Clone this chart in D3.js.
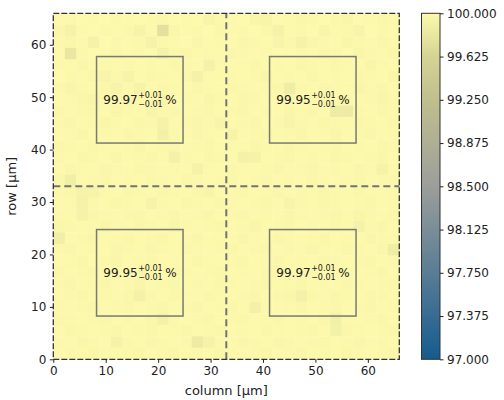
<!DOCTYPE html>
<html>
<head>
<meta charset="utf-8">
<script src="https://cdn.jsdelivr.net/npm/d3@7"></script>
<style>
  body { margin: 0; background: #fff; }
  text { font-family: "DejaVu Sans", sans-serif; fill: #222; }
</style>
</head>
<body>
<svg id="chart" width="504" height="400"></svg>
<script>
// efficiency map, 30 x 30 cells of 2.2 µm, first row is the top of the image
var extent = 66;
var heat = [
  [99.99,99.98,100,99.99,100,99.98,99.99,100,99.99,99.98,100,99.99,100,99.95,99.98,99.99,100,99.96,99.95,100,99.99,99.97,99.98,100,99.98,99.96,100,99.99,99.97,99.98],
  [99.97,99.93,99.99,100,99.98,99.99,99.98,99.94,99.99,99.76,99.97,99.99,99.98,100,99.97,99.99,99.98,100,99.97,99.93,99.99,99.98,100,99.96,99.99,99.98,99.95,100,99.98,99.99],
  [99.98,99.97,99.99,99.93,100,99.98,99.99,99.98,99.93,99.98,99.99,100,99.97,99.99,99.98,99.99,99.97,99.98,99.99,99.95,99.98,99.93,99.97,99.98,99.99,99.96,99.98,99.99,99.97,99.98],
  [99.99,99.82,99.98,100,99.99,99.97,99.99,99.98,99.99,99.92,99.98,99.97,99.99,99.98,99.99,99.97,99.98,99.99,99.98,100,99.99,99.98,99.99,99.97,99.98,100,99.96,99.98,99.99,99.97],
  [99.98,99.99,99.97,99.99,99.98,99.99,99.98,99.99,99.98,99.99,99.97,99.98,99.99,99.92,99.98,99.99,99.98,99.97,99.99,99.98,99.99,99.97,99.98,99.99,99.97,99.98,99.99,99.96,99.98,99.99],
  [100,99.98,99.99,99.97,99.95,99.98,99.94,99.99,99.97,99.98,99.99,99.97,99.92,99.98,99.99,99.98,99.99,99.98,99.96,99.99,99.98,99.99,99.97,99.99,99.98,99.99,99.97,99.98,99.99,99.96],
  [99.98,99.96,99.98,99.99,99.97,99.94,99.98,99.93,99.99,99.97,99.98,99.99,99.97,99.98,99.99,99.97,99.98,99.99,99.98,99.97,99.88,99.98,99.99,99.97,99.98,99.99,99.96,99.98,99.97,99.99],
  [99.99,99.98,99.97,99.95,99.98,99.99,99.96,99.98,99.97,99.94,99.99,99.98,99.99,99.96,99.98,99.99,99.97,99.98,99.99,99.98,99.97,99.99,99.98,99.96,99.98,99.97,99.99,99.98,99.96,99.98],
  [99.97,99.99,99.98,99.97,99.99,99.96,99.98,99.99,99.95,99.98,99.97,99.99,99.98,99.97,99.99,99.98,99.97,99.99,99.98,99.99,99.96,99.98,99.97,99.99,99.86,99.86,99.98,99.99,99.97,99.98],
  [99.98,99.97,99.99,99.98,99.96,99.98,99.99,99.97,99.98,99.93,99.99,99.98,99.97,99.98,99.95,99.99,99.98,99.97,99.99,99.98,99.95,99.98,99.99,99.97,99.98,99.99,99.97,99.98,99.99,99.97],
  [99.99,99.98,99.97,99.99,99.98,99.99,99.97,99.98,99.99,99.91,99.98,99.99,99.97,99.98,99.99,99.94,99.99,99.98,99.97,99.99,99.98,99.97,99.99,99.98,99.96,99.99,99.98,99.97,99.99,99.98],
  [99.97,99.98,99.99,99.97,99.98,99.99,99.98,99.96,99.99,99.98,99.97,99.99,99.98,99.97,99.99,99.98,99.99,99.97,99.98,99.99,99.97,99.98,99.99,99.98,99.97,99.99,99.98,99.99,99.97,99.98],
  [99.98,99.99,99.97,99.98,99.99,99.97,99.99,99.98,99.97,99.99,99.92,99.98,99.99,99.97,99.98,99.99,99.92,99.93,99.99,99.98,99.97,99.99,99.98,99.99,99.97,99.98,99.99,99.98,99.97,99.99],
  [99.99,99.97,99.98,99.99,99.97,99.98,99.99,99.97,99.98,99.99,99.98,99.99,99.93,99.98,99.99,99.97,99.98,99.99,99.98,99.97,99.99,99.98,99.97,99.99,99.98,99.99,99.97,99.98,99.93,99.98],
  [99.97,99.89,99.99,99.98,99.97,99.99,99.98,99.99,99.97,99.98,99.99,99.97,99.98,99.99,99.98,99.97,99.99,99.98,99.97,99.99,99.98,99.99,99.97,99.98,99.99,99.98,99.97,99.99,99.98,99.97],
  [99.98,99.97,99.93,99.94,99.98,99.99,99.97,99.98,99.99,99.97,99.98,99.99,99.97,99.95,99.99,99.98,99.97,99.99,99.98,99.97,99.99,99.98,99.99,99.97,99.98,99.99,99.97,99.98,99.99,99.98],
  [99.99,99.98,99.92,99.98,99.99,99.97,99.98,99.99,99.94,99.98,99.99,99.97,99.98,99.99,99.97,99.98,99.99,99.98,99.97,99.99,99.95,99.98,99.99,99.97,99.98,99.99,99.98,99.97,99.99,99.98],
  [99.98,99.99,99.93,99.97,99.98,99.99,99.98,99.97,99.99,99.98,99.97,99.99,99.98,99.97,99.99,99.98,99.97,99.99,99.98,99.99,99.97,99.98,99.99,99.98,99.97,99.99,99.96,99.98,99.99,99.97],
  [99.97,99.98,99.99,99.98,99.96,99.98,99.99,99.97,99.98,99.99,99.96,99.98,99.99,99.98,99.97,99.99,99.98,99.96,99.99,99.98,99.97,99.99,99.98,99.99,99.97,99.98,99.92,99.98,99.97,99.99],
  [99.89,99.99,99.98,99.97,99.99,99.98,99.97,99.99,99.98,99.97,99.99,99.98,99.97,99.99,99.98,99.99,99.97,99.98,99.99,99.97,99.98,99.99,99.98,99.97,99.99,99.98,99.99,99.97,99.98,99.98],
  [99.98,99.97,99.99,99.98,99.99,99.97,99.98,99.99,99.97,99.98,99.99,99.97,99.98,99.99,99.98,99.97,99.99,99.98,99.97,99.99,99.98,99.99,99.97,99.98,99.99,99.97,99.98,99.99,99.97,99.88],
  [99.99,99.98,99.97,99.99,99.98,99.96,99.99,99.98,99.97,99.99,99.98,99.99,99.97,99.98,99.99,99.98,99.97,99.99,99.98,99.97,99.99,99.98,99.99,99.97,99.98,99.99,99.98,99.97,99.99,99.98],
  [99.97,99.99,99.98,99.97,99.99,99.98,99.99,99.97,99.98,99.99,99.97,99.98,99.99,99.98,99.97,99.99,99.98,99.99,99.97,99.98,99.99,99.97,99.98,99.99,99.98,99.97,99.99,99.98,99.97,99.99],
  [99.98,99.97,99.99,99.98,99.97,99.99,99.98,99.96,99.99,99.98,99.97,99.99,99.98,99.99,99.97,99.98,99.99,99.98,99.97,99.99,99.98,99.97,99.99,99.98,99.99,99.97,99.98,99.99,99.98,99.97],
  [99.99,99.98,99.97,99.99,99.98,99.99,99.97,99.92,99.98,99.99,99.97,99.98,99.99,99.97,99.98,99.99,99.98,99.97,99.99,99.98,99.97,99.92,99.98,99.99,99.97,99.98,99.99,99.97,99.98,99.99],
  [99.98,99.99,99.98,99.97,99.99,99.98,99.97,99.99,99.98,99.97,99.99,99.98,99.97,99.99,99.98,99.97,99.99,99.91,99.98,99.99,99.98,99.97,99.99,99.98,99.97,99.99,99.98,99.97,99.99,99.98],
  [99.97,99.98,99.99,99.98,99.97,99.99,99.98,99.99,99.97,99.92,99.98,99.99,99.98,99.97,99.99,99.98,99.97,99.99,99.98,99.97,99.99,99.98,99.99,99.97,99.91,99.98,99.99,99.98,99.97,99.99],
  [99.99,99.97,99.98,99.99,99.98,99.97,99.99,99.98,99.97,99.99,99.98,99.97,99.99,99.98,99.97,99.99,99.98,99.99,99.97,99.98,99.99,99.98,99.97,99.99,99.92,99.97,99.98,99.99,99.98,99.97],
  [99.98,99.99,99.97,99.98,99.99,99.93,99.98,99.99,99.97,99.98,99.99,99.98,99.86,99.93,99.98,99.99,99.97,99.98,99.99,99.97,99.98,99.99,99.98,99.97,99.99,99.98,99.97,99.99,99.98,99.99],
  [99.99,99.98,99.99,99.97,99.98,99.99,99.98,99.97,99.99,99.98,99.97,99.99,99.98,99.99,99.97,99.98,99.99,99.98,99.97,99.99,99.98,99.97,99.99,99.98,99.99,99.97,99.98,99.99,99.98,99.97]
];

// four sub-regions: [x0, x1, y0, y1] in µm, value and errors in %
var regions = [[8.25, 24.75, 41.25, 57.75], [41.25, 57.75, 41.25, 57.75],
               [8.25, 24.75, 8.25, 24.75], [41.25, 57.75, 8.25, 24.75]];
var regionValues = ["99.97", "99.95", "99.95", "99.97"];
var regionPlus = ["+0.01", "+0.01", "+0.01", "+0.01"];
var regionMinus = ["\u22120.01", "\u22120.01", "\u22120.01", "\u22120.01"];

var axisTicks = [0, 10, 20, 30, 40, 50, 60];
var splitAt = 33;
var cbarTicks = [97.000, 97.375, 97.750, 98.125, 98.500, 98.875, 99.250, 99.625, 100.000];
var cmapStops = [97, 98.5, 99.25, 99.625, 100];
var cmapColors = ["#155b8f", "#9c9e9a", "#c0bf8e", "#d5d394", "#fdfaad"];

var svg = d3.select("#chart");
var plotLeft = 53.3, plotTop = 13.3, plotSize = 346;

var x = d3.scaleLinear().domain([0, extent]).range([plotLeft, plotLeft + plotSize]);
var y = d3.scaleLinear().domain([0, extent]).range([plotTop + plotSize, plotTop]);
var color = d3.scaleLinear().domain(cmapStops).range(cmapColors).clamp(true);

var n = heat.length, cell = extent / n;

// cells
var g = svg.append("g");
heat.forEach(function(row, j) {
  row.forEach(function(v, i) {
    g.append("rect")
      .attr("x", x(i * cell))
      .attr("y", y(extent - j * cell))
      .attr("width", x(cell) - x(0) + 0.3)
      .attr("height", y(0) - y(cell) + 0.3)
      .attr("fill", color(v));
  });
});

// split lines
svg.append("line").attr("x1", x(splitAt)).attr("x2", x(splitAt)).attr("y1", y(0)).attr("y2", y(extent))
  .attr("stroke", "#737373").attr("stroke-width", 2).attr("stroke-dasharray", "7,4");
svg.append("line").attr("x1", x(0)).attr("x2", x(extent)).attr("y1", y(splitAt)).attr("y2", y(splitAt))
  .attr("stroke", "#737373").attr("stroke-width", 2).attr("stroke-dasharray", "7,4");

// region boxes and labels
regions.forEach(function(r, k) {
  svg.append("rect")
    .attr("x", x(r[0])).attr("y", y(r[3]))
    .attr("width", x(r[1]) - x(r[0])).attr("height", y(r[2]) - y(r[3]))
    .attr("fill", "none").attr("stroke", "#7a7a72").attr("stroke-width", 1.5);

  var cx = x((r[0] + r[1]) / 2), cy = y((r[2] + r[3]) / 2);
  var x0 = cx - 36.5;
  var main = svg.append("text").attr("x", x0).attr("y", cy + 4.5).style("font-size", "12px").text(regionValues[k]);
  var w = main.node().getComputedTextLength();
  var sx = x0 + w + 0.5;
  svg.append("text").attr("x", sx).attr("y", cy - 1.5).style("font-size", "8px").text(regionPlus[k]);
  svg.append("text").attr("x", sx).attr("y", cy + 7.5).style("font-size", "8px").text(regionMinus[k]);
  svg.append("text").attr("x", sx + 27).attr("y", cy + 4.5).style("font-size", "12px").text("%");
});

// frame
svg.append("rect").attr("x", plotLeft).attr("y", plotTop).attr("width", plotSize).attr("height", plotSize)
  .attr("fill", "none").attr("stroke", "#333").attr("stroke-width", 1.3).attr("stroke-dasharray", "6,2");

// axes
function styleAxis(s) {
  s.select(".domain").remove();
  s.selectAll("text").style("font-size", "12px").attr("fill", "#222");
  s.selectAll("line").attr("stroke", "#222");
}
svg.append("g").attr("transform", "translate(0," + (plotTop + plotSize) + ")")
  .call(d3.axisBottom(x).tickValues(axisTicks).tickSize(3.5).tickPadding(3.5))
  .call(styleAxis);
svg.append("g").attr("transform", "translate(" + plotLeft + ",0)")
  .call(d3.axisLeft(y).tickValues(axisTicks).tickSize(3.5).tickPadding(3.5))
  .call(styleAxis);

svg.append("text").attr("x", plotLeft + plotSize / 2).attr("y", 395).attr("text-anchor", "middle")
  .style("font-size", "13px").text("column [\u00b5m]");
svg.append("text").attr("transform", "translate(16," + (plotTop + plotSize / 2) + ") rotate(-90)")
  .attr("text-anchor", "middle").style("font-size", "13px").text("row [\u00b5m]");

// colorbar
var cbx = 421.5, cbw = 18.5;
var cy2 = d3.scaleLinear().domain([97, 100]).range([plotTop + plotSize, plotTop]);
var grad = svg.append("defs").append("linearGradient").attr("id", "cbar")
  .attr("x1", 0).attr("y1", 1).attr("x2", 0).attr("y2", 0);
d3.range(0, 1.0001, 0.025).forEach(function(f) {
  grad.append("stop").attr("offset", f).attr("stop-color", color(97 + 3 * f));
});
svg.append("rect").attr("x", cbx).attr("y", plotTop).attr("width", cbw).attr("height", plotSize)
  .attr("fill", "url(#cbar)").attr("stroke", "#333").attr("stroke-width", 1);
svg.append("g").attr("transform", "translate(" + (cbx + cbw) + ",0)")
  .call(d3.axisRight(cy2).tickValues(cbarTicks).tickFormat(d3.format(".3f")).tickSize(3.5).tickPadding(3.5))
  .call(styleAxis);
</script>
</body>
</html>
